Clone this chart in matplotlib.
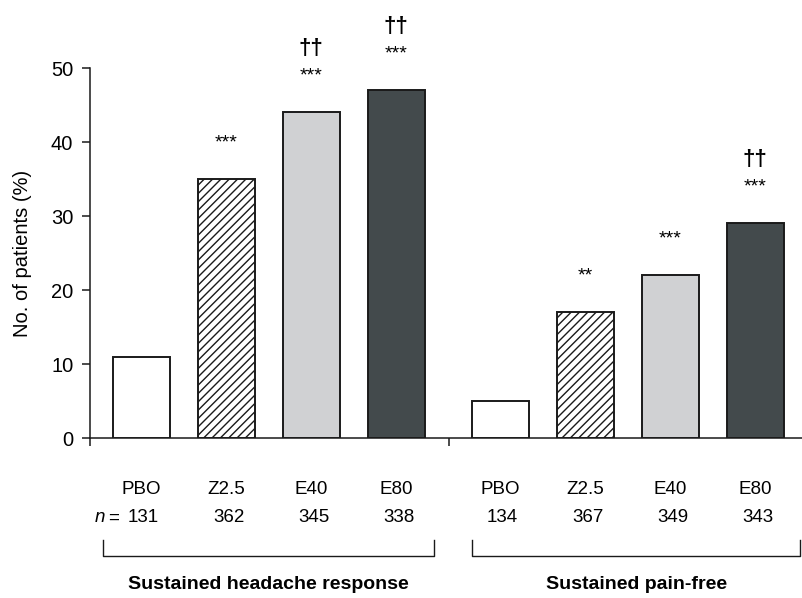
import matplotlib.pyplot as plt
import matplotlib.transforms as mtransforms

plt.rcParams['font.family'] = ['Liberation Sans', 'DejaVu Sans']
plt.rcParams['hatch.linewidth'] = 1.0

# values (%) per group
groups = ["Sustained headache response", "Sustained pain-free"]
treatments = ["PBO", "Z2.5", "E40", "E80"]
headache_pct = [11, 35, 44, 47]
painfree_pct = [5, 17, 22, 29]
headache_n = [131, 362, 345, 338]
painfree_n = [134, 367, 349, 343]
headache_stars = ["", "***", "***", "***"]
painfree_stars = ["", "**", "***", "***"]
headache_dagger = ["", "", "\u2020\u2020", "\u2020\u2020"]
painfree_dagger = ["", "", "", "\u2020\u2020"]

fills = ["white", "white", "#d0d1d3", "#434a4c"]
hatches = [None, "////", None, None]

gap = 1.22
xpos = [0, 1, 2, 3] + [3 + gap + i for i in range(4)]
values = headache_pct + painfree_pct
counts = headache_n + painfree_n
stars = headache_stars + painfree_stars
daggers = headache_dagger + painfree_dagger

fig = plt.figure(figsize=(8.02, 5.98), dpi=100)
ax = fig.add_axes([90 / 802, 1 - 438 / 598, 1 - 90 / 802, 370 / 598])

for i, (x, v) in enumerate(zip(xpos, values)):
    ax.bar(x, v, width=0.67, color=fills[i % 4], hatch=hatches[i % 4],
           edgecolor="#1a1a1a", linewidth=1.4, zorder=3)
    if stars[i]:
        ax.text(x, v + 4.9, stars[i], ha="center", va="center",
                fontsize=14, clip_on=False)
    if daggers[i]:
        ax.text(x, v + 8.6, daggers[i], ha="center", va="center",
                fontsize=16, fontweight="bold", clip_on=False)

ax.set_xlim(-0.6, 7.77)
ax.set_ylim(0, 50)
ax.set_yticks([0, 10, 20, 30, 40, 50])
ax.set_xticks([-0.6, 3 + 0.62])
ax.set_xticklabels([])
ax.tick_params(axis="both", direction="out", length=6, width=1.1,
               labelsize=14.5, color="#1a1a1a")
ax.tick_params(axis="y", pad=6)
for s in ["top", "right"]:
    ax.spines[s].set_visible(False)
for s in ["left", "bottom"]:
    ax.spines[s].set_linewidth(1.1)
    ax.spines[s].set_color("#1a1a1a")
ax.set_ylabel("No. of patients (%)", fontsize=14.5, labelpad=14)

trans = mtransforms.blended_transform_factory(ax.transData, ax.transAxes)

# treatment names and group sizes under the axis
for i, x in enumerate(xpos):
    ax.text(x, -0.14, treatments[i % 4], transform=trans, ha="center",
            va="center", fontsize=13.5)
    ax.text(x + 0.03, -0.216, str(counts[i]), transform=trans, ha="center",
            va="center", fontsize=13.5)
ax.text(-0.26, -0.216, "=", transform=trans, ha="right", va="center",
        fontsize=13.5)
ax.text(-0.42, -0.216, "n", transform=trans, ha="right", va="center",
        fontsize=13.5, style="italic")

# brackets and group titles
for g, (left, right) in enumerate([(-0.45, 3.44), (3.89, 7.75)]):
    ax.plot([left, left, right, right], [-0.275, -0.319, -0.319, -0.275],
            transform=trans, color="#1a1a1a", linewidth=1.0, clip_on=False)
    ax.text((left + right) / 2, -0.397, groups[g], transform=trans,
            ha="center", va="center", fontsize=14, fontweight="bold")

fig.savefig("out.png", dpi=100)
